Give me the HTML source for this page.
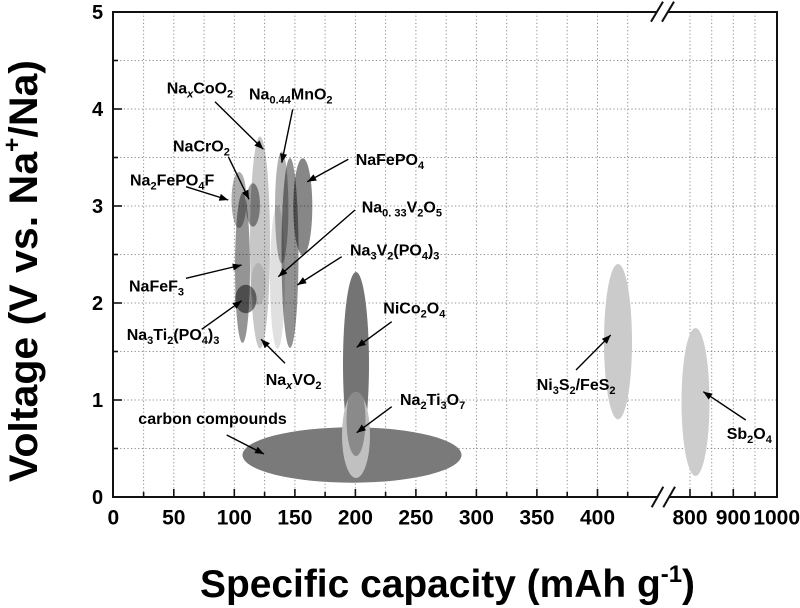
<!DOCTYPE html>
<html><head><meta charset="utf-8"><style>
html,body{margin:0;padding:0;background:#fff;}
svg{display:block;}
text{font-family:"Liberation Sans",Arial,sans-serif;font-weight:bold;fill:#000;}
</style></head><body>
<svg width="800" height="608" viewBox="0 0 800 608" xmlns="http://www.w3.org/2000/svg">
<defs>
<marker id="ah" viewBox="0 0 10 8" refX="10" refY="4" markerWidth="9" markerHeight="7.2" markerUnits="userSpaceOnUse" orient="auto">
<path d="M0,0 L10,4 L0,8 z" fill="#000"/>
</marker>
<clipPath id="lt"><ellipse cx="356" cy="435" rx="14" ry="43"/></clipPath>
</defs>
<rect width="800" height="608" fill="#fff"/>

<!-- grid -->
<g stroke="#8c8c8c" stroke-width="1" stroke-dasharray="1.2,2.4" fill="none">
<line x1="113" y1="448.5" x2="777" y2="448.5"/>
<line x1="113" y1="400" x2="777" y2="400"/>
<line x1="113" y1="351.5" x2="777" y2="351.5"/>
<line x1="113" y1="303" x2="777" y2="303"/>
<line x1="113" y1="254.5" x2="777" y2="254.5"/>
<line x1="113" y1="206" x2="777" y2="206"/>
<line x1="113" y1="157.5" x2="777" y2="157.5"/>
<line x1="113" y1="109" x2="777" y2="109"/>
<line x1="113" y1="60.5" x2="777" y2="60.5"/>
<line x1="143.6" y1="12" x2="143.6" y2="497"/>
<line x1="173.8" y1="12" x2="173.8" y2="497"/>
<line x1="204.1" y1="12" x2="204.1" y2="497"/>
<line x1="234.3" y1="12" x2="234.3" y2="497"/>
<line x1="264.6" y1="12" x2="264.6" y2="497"/>
<line x1="294.9" y1="12" x2="294.9" y2="497"/>
<line x1="325.1" y1="12" x2="325.1" y2="497"/>
<line x1="355.4" y1="12" x2="355.4" y2="497"/>
<line x1="385.6" y1="12" x2="385.6" y2="497"/>
<line x1="415.9" y1="12" x2="415.9" y2="497"/>
<line x1="446.2" y1="12" x2="446.2" y2="497"/>
<line x1="476.4" y1="12" x2="476.4" y2="497"/>
<line x1="506.7" y1="12" x2="506.7" y2="497"/>
<line x1="536.9" y1="12" x2="536.9" y2="497"/>
<line x1="567.2" y1="12" x2="567.2" y2="497"/>
<line x1="597.5" y1="12" x2="597.5" y2="497"/>
<line x1="627.7" y1="12" x2="627.7" y2="497"/>
<line x1="690" y1="12" x2="690" y2="497"/>
<line x1="711.7" y1="12" x2="711.7" y2="497"/>
<line x1="733.3" y1="12" x2="733.3" y2="497"/>
<line x1="755" y1="12" x2="755" y2="497"/>
</g>

<!-- ellipses: left cluster -->
<g fill="#000">
<ellipse cx="260" cy="242.5" rx="10" ry="106" fill-opacity="0.22"/>
<ellipse cx="277.5" cy="277" rx="7.5" ry="72" fill-opacity="0.12"/>
<ellipse cx="281.7" cy="207.5" rx="6.7" ry="56" fill-opacity="0.3"/>
<ellipse cx="290" cy="253" rx="8.5" ry="95" fill-opacity="0.43"/>
<ellipse cx="302.8" cy="206.7" rx="9.5" ry="48.5" fill-opacity="0.47"/>
<ellipse cx="239" cy="200" rx="7.5" ry="28" fill-opacity="0.32"/>
<ellipse cx="242.5" cy="268" rx="7.5" ry="75" fill-opacity="0.42"/>
<ellipse cx="253" cy="205" rx="7" ry="21.7" fill-opacity="0.4"/>
<ellipse cx="258.3" cy="284" rx="7.3" ry="21" fill-opacity="0.1"/>
<ellipse cx="245.8" cy="299" rx="10.8" ry="14.2" fill-opacity="0.48"/>
</g>

<!-- carbon, NiCo2O4, Na2Ti3O7 -->
<ellipse cx="352" cy="455" rx="109.5" ry="27.7" fill="#7a7a7a"/>
<ellipse cx="356" cy="364" rx="13" ry="92" fill="#747474"/>
<ellipse cx="356" cy="435" rx="14" ry="43" fill="#c0c0c0"/>
<ellipse cx="356" cy="420" rx="9.5" ry="36" fill="#8a8a8a" clip-path="url(#lt)"/>

<!-- right ellipses -->
<ellipse cx="618" cy="341.7" rx="14" ry="77.7" fill="#cbcbcb"/>
<ellipse cx="695.5" cy="402" rx="14" ry="74" fill="#cdcdcd"/>

<!-- ticks -->
<g stroke="#111" stroke-width="1.6">
<line x1="173.8" y1="489" x2="173.8" y2="497"/>
<line x1="234.3" y1="489" x2="234.3" y2="497"/>
<line x1="294.9" y1="489" x2="294.9" y2="497"/>
<line x1="355.4" y1="489" x2="355.4" y2="497"/>
<line x1="415.9" y1="489" x2="415.9" y2="497"/>
<line x1="476.4" y1="489" x2="476.4" y2="497"/>
<line x1="536.9" y1="489" x2="536.9" y2="497"/>
<line x1="597.5" y1="489" x2="597.5" y2="497"/>
<line x1="690" y1="489" x2="690" y2="497"/>
<line x1="733.3" y1="489" x2="733.3" y2="497"/>
<line x1="143.6" y1="492" x2="143.6" y2="497"/>
<line x1="204.1" y1="492" x2="204.1" y2="497"/>
<line x1="264.6" y1="492" x2="264.6" y2="497"/>
<line x1="325.1" y1="492" x2="325.1" y2="497"/>
<line x1="385.6" y1="492" x2="385.6" y2="497"/>
<line x1="446.2" y1="492" x2="446.2" y2="497"/>
<line x1="506.7" y1="492" x2="506.7" y2="497"/>
<line x1="567.2" y1="492" x2="567.2" y2="497"/>
<line x1="627.7" y1="492" x2="627.7" y2="497"/>
<line x1="711.7" y1="492" x2="711.7" y2="497"/>
<line x1="755" y1="492" x2="755" y2="497"/>
<line x1="113" y1="400" x2="122" y2="400"/>
<line x1="113" y1="303" x2="122" y2="303"/>
<line x1="113" y1="206" x2="122" y2="206"/>
<line x1="113" y1="109" x2="122" y2="109"/>
<line x1="113" y1="448.5" x2="118" y2="448.5"/>
<line x1="113" y1="351.5" x2="118" y2="351.5"/>
<line x1="113" y1="254.5" x2="118" y2="254.5"/>
<line x1="113" y1="157.5" x2="118" y2="157.5"/>
<line x1="113" y1="60.5" x2="118" y2="60.5"/>
</g>

<!-- frame -->
<g stroke="#111" stroke-width="2" fill="none">
<line x1="113" y1="11" x2="113" y2="498"/>
<line x1="777" y1="11" x2="777" y2="498"/>
<line x1="112" y1="12" x2="656.8" y2="12"/>
<line x1="667.8" y1="12" x2="778" y2="12"/>
<line x1="112" y1="497" x2="657.5" y2="497"/>
<line x1="669" y1="497" x2="778" y2="497"/>
<line x1="651" y1="21.7" x2="663" y2="1.7"/>
<line x1="662" y1="21.7" x2="674" y2="1.7"/>
<line x1="651.7" y1="507.3" x2="663.3" y2="486.7"/>
<line x1="663.3" y1="507.3" x2="675" y2="486.7"/>
</g>

<!-- tick labels -->
<g font-size="21" text-anchor="middle">
<text x="113.3" y="524.5">0</text>
<text x="173.8" y="524.5">50</text>
<text x="234.3" y="524.5">100</text>
<text x="294.9" y="524.5">150</text>
<text x="355.4" y="524.5">200</text>
<text x="415.9" y="524.5">250</text>
<text x="476.4" y="524.5">300</text>
<text x="536.9" y="524.5">350</text>
<text x="597.5" y="524.5">400</text>
<text x="690" y="524.5">800</text>
<text x="733.3" y="524.5">900</text>
<text x="776.7" y="524.5">1000</text>
</g>
<g font-size="20" text-anchor="middle">
<text x="97.5" y="504">0</text>
<text x="97.5" y="407">1</text>
<text x="97.5" y="310">2</text>
<text x="97.5" y="213">3</text>
<text x="97.5" y="116">4</text>
<text x="97.5" y="19">5</text>
</g>

<!-- axis titles -->
<text x="200" y="597" font-size="39" textLength="495" lengthAdjust="spacingAndGlyphs">Specific capacity (mAh g<tspan font-size="24" dy="-15">-1</tspan><tspan dy="15">)</tspan></text>
<text transform="translate(37,482) rotate(-90)" x="0" y="0" font-size="40" textLength="422" lengthAdjust="spacingAndGlyphs">Voltage (V vs. Na<tspan font-size="24" dy="-17">+</tspan><tspan dy="17">/Na)</tspan></text>

<!-- arrows -->
<g stroke="#000" stroke-width="1.4" marker-end="url(#ah)">
<line x1="215" y1="101.7" x2="263.3" y2="149.3"/>
<line x1="292.7" y1="109.3" x2="281.7" y2="162.7"/>
<line x1="228.3" y1="156.7" x2="249" y2="199.3"/>
<line x1="186" y1="186.7" x2="228.3" y2="200"/>
<line x1="348.3" y1="159.3" x2="307.3" y2="181.7"/>
<line x1="355" y1="210" x2="278.3" y2="276.7"/>
<line x1="341.7" y1="256.7" x2="297.3" y2="285"/>
<line x1="186" y1="278.3" x2="241.7" y2="265"/>
<line x1="201.7" y1="329.3" x2="241.7" y2="300.7"/>
<line x1="285" y1="363.3" x2="261" y2="339.3"/>
<line x1="391.7" y1="321.7" x2="356.7" y2="347.3"/>
<line x1="391.7" y1="406.7" x2="356.7" y2="432.7"/>
<line x1="226.7" y1="435" x2="264" y2="454"/>
<line x1="576" y1="370" x2="610.7" y2="335"/>
<line x1="745.7" y1="420" x2="703.3" y2="391.7"/>
</g>

<!-- labels -->
<g font-size="16">
<text x="166.7" y="93.3">Na<tspan font-size="11" dy="4" font-style="italic">x</tspan><tspan dy="-4">CoO</tspan><tspan font-size="11" dy="4">2</tspan></text>
<text x="249" y="99.3">Na<tspan font-size="11" dy="4">0.44</tspan><tspan dy="-4">MnO</tspan><tspan font-size="11" dy="4">2</tspan></text>
<text x="173" y="151.7">NaCrO<tspan font-size="11" dy="4">2</tspan></text>
<text x="130" y="185.7">Na<tspan font-size="11" dy="4">2</tspan><tspan dy="-4">FePO</tspan><tspan font-size="11" dy="4">4</tspan><tspan dy="-4">F</tspan></text>
<text x="355.7" y="165">NaFePO<tspan font-size="11" dy="4">4</tspan></text>
<text x="361.7" y="212.7">Na<tspan font-size="11" dy="4">0. 33</tspan><tspan dy="-4">V</tspan><tspan font-size="11" dy="4">2</tspan><tspan dy="-4">O</tspan><tspan font-size="11" dy="4">5</tspan></text>
<text x="350" y="255.5">Na<tspan font-size="11" dy="4">3</tspan><tspan dy="-4">V</tspan><tspan font-size="11" dy="4">2</tspan><tspan dy="-4">(PO</tspan><tspan font-size="11" dy="4">4</tspan><tspan dy="-4">)</tspan><tspan font-size="11" dy="4">3</tspan></text>
<text x="129" y="291.7">NaFeF<tspan font-size="11" dy="4">3</tspan></text>
<text x="126.7" y="340">Na<tspan font-size="11" dy="4">3</tspan><tspan dy="-4">Ti</tspan><tspan font-size="11" dy="4">2</tspan><tspan dy="-4">(PO</tspan><tspan font-size="11" dy="4">4</tspan><tspan dy="-4">)</tspan><tspan font-size="11" dy="4">3</tspan></text>
<text x="265.7" y="385">Na<tspan font-size="11" dy="4" font-style="italic">x</tspan><tspan dy="-4">VO</tspan><tspan font-size="11" dy="4">2</tspan></text>
<text x="383.3" y="313.3">NiCo<tspan font-size="11" dy="4">2</tspan><tspan dy="-4">O</tspan><tspan font-size="11" dy="4">4</tspan></text>
<text x="400" y="405">Na<tspan font-size="11" dy="4">2</tspan><tspan dy="-4">Ti</tspan><tspan font-size="11" dy="4">3</tspan><tspan dy="-4">O</tspan><tspan font-size="11" dy="4">7</tspan></text>
<text x="138.3" y="424">carbon compounds</text>
<text x="536.7" y="390">Ni<tspan font-size="11" dy="4">3</tspan><tspan dy="-4">S</tspan><tspan font-size="11" dy="4">2</tspan><tspan dy="-4">/FeS</tspan><tspan font-size="11" dy="4">2</tspan></text>
<text x="726.7" y="439">Sb<tspan font-size="11" dy="4">2</tspan><tspan dy="-4">O</tspan><tspan font-size="11" dy="4">4</tspan></text>
</g>
</svg>
</body></html>
